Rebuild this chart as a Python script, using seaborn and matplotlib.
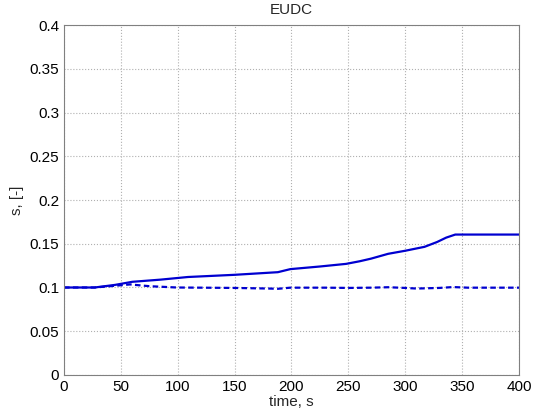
import numpy as np
import pandas as pd
import matplotlib
matplotlib.use("Agg")
import matplotlib.pyplot as plt
import seaborn as sns

# solid curve
t_solid = [0, 27, 45, 60, 85, 109, 150, 188, 199, 225, 248, 260, 270, 285, 300, 317, 328, 336, 344, 370, 400]
s_solid = [0.1, 0.1, 0.103, 0.1065, 0.109, 0.112, 0.1145, 0.1175, 0.121, 0.124, 0.127, 0.130, 0.133, 0.1385, 0.142, 0.1465, 0.152, 0.157, 0.1605, 0.1605, 0.1605]

# dashed curve
t_dash = [0, 27, 45, 58, 75, 99, 150, 180, 188, 199, 230, 250, 270, 285, 300, 310, 330, 342, 355, 400]
s_dash = [0.1, 0.1, 0.102, 0.1035, 0.1015, 0.1, 0.0995, 0.0988, 0.0985, 0.0998, 0.0998, 0.0995, 0.0998, 0.1003, 0.0995, 0.0988, 0.0995, 0.1005, 0.0998, 0.0998]

sns.set_style("white")
plt.rcParams["font.family"] = ["Liberation Sans", "DejaVu Sans"]

fig = plt.figure(figsize=(5.41, 4.08), dpi=100)
ax = fig.add_axes([0.1183, 0.0809, 0.8410, 0.8578])

df_solid = pd.DataFrame({"time": t_solid, "s": s_solid})
df_dash = pd.DataFrame({"time": t_dash, "s": s_dash})

sns.lineplot(data=df_solid, x="time", y="s", ax=ax, color="#0000d0", linewidth=1.6)
sns.lineplot(data=df_dash, x="time", y="s", ax=ax, color="#0000d0", linewidth=1.6,
             linestyle=(0, (2.5, 1.5)))

ax.set_xlim(0, 400)
ax.set_ylim(0, 0.4)
ax.set_xticks(np.arange(0, 401, 50))
ax.set_yticks(np.arange(0, 0.401, 0.05))
ax.set_xticklabels([str(v) for v in range(0, 401, 50)])
ax.set_yticklabels(["0", "0.05", "0.1", "0.15", "0.2", "0.25", "0.3", "0.35", "0.4"])
ax.grid(True, linestyle=":", color="#b0b0b0", linewidth=0.8)
ax.tick_params(direction="in", length=4, labelsize=11, colors="black")
for sp in ax.spines.values():
    sp.set_color("#808080")
    sp.set_linewidth(0.8)

ax.set_title("EUDC", fontsize=11, pad=8)
ax.set_xlabel("time, s", fontsize=11, labelpad=1)
ax.set_ylabel("s, [-]", fontsize=11, labelpad=4)

fig.savefig("out.png", dpi=100)
